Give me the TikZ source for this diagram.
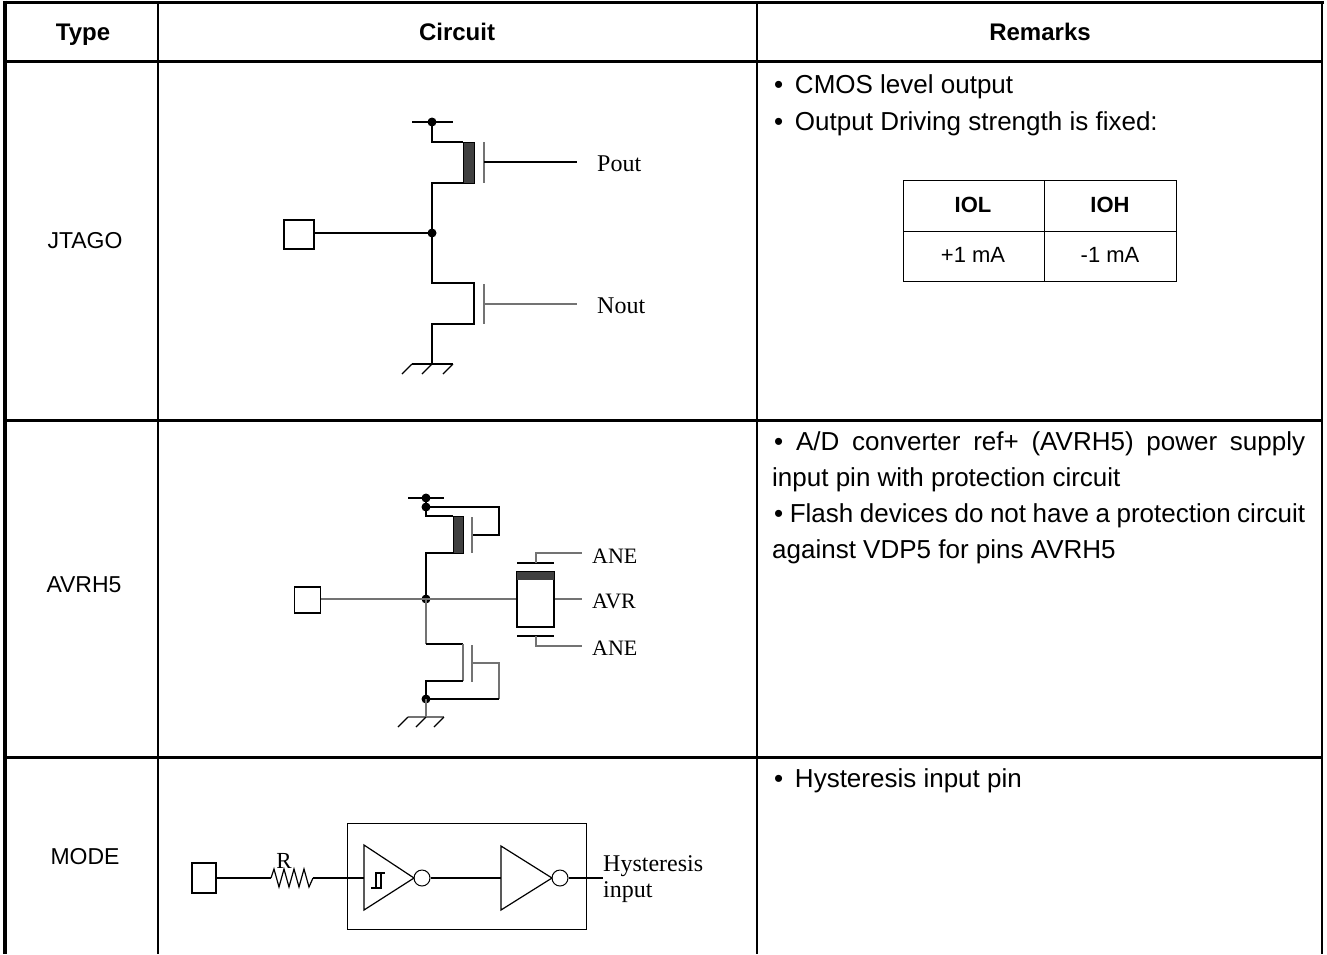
\documentclass[tikz,border=0pt]{standalone}
\usepackage{fontspec}
\setmainfont{Liberation Sans}
\newfontfamily\tms{Liberation Serif}
\newcommand{\jline}[2]{{\spaceskip=0.28em plus 3em minus 0.1em\makebox[#1][s]{#2}}}
\newcommand{\bul}{•\hspace{0.45em}}
\begin{document}
\begin{tikzpicture}[x=1pt,y=-1pt,
  hdr/.style={font=\bfseries\fontsize{24}{28}\selectfont, inner sep=0pt, anchor=base},
  lbl/.style={font=\fontsize{23}{27}\selectfont, inner sep=0pt},
  body/.style={font=\fontsize{26}{30}\selectfont, anchor=west, inner sep=0pt},
  wire/.style={line width=1.2pt},
  gwire/.style={line width=1.2pt, draw=black!55},
  jdot/.style={circle, fill=black, inner sep=0pt, minimum size=9pt},
  padbox/.style={draw, line width=1.1pt, fill=white},
  chan/.style={draw, fill=black!75, line width=1pt},
  clbl/.style={font=\tms\fontsize{24}{28}\selectfont, anchor=west, inner sep=0pt},
  slbl/.style={font=\tms\fontsize{22}{26}\selectfont, anchor=west, inner sep=0pt},
  ttxt/.style={font=\fontsize{22}{26}\selectfont, inner sep=0pt},
  ttxtb/.style={font=\bfseries\fontsize{22}{26}\selectfont, inner sep=0pt},
]
\useasboundingbox (0,0) rectangle (1327,954);
\fill[white] (0,0) rectangle (1327,954);

% ---------- table frame ----------
\draw[line width=3.5pt] (3,2.5)--(1323.5,2.5);
\draw[line width=4pt] (5,0.5)--(5,954);
\draw[line width=2.5pt] (1322,1)--(1322,954);
\draw[line width=3pt] (5,61)--(1322,61);
\draw[line width=3pt] (5,420)--(1322,420);
\draw[line width=3pt] (5,757)--(1322,757);
\draw[line width=2pt] (158,2)--(158,954);
\draw[line width=2pt] (757,2)--(757,954);

% ---------- header ----------
\node[hdr] (hType) at (83,40.5) {Type};
\node[hdr] (hCirc) at (457,40.5) {Circuit};
\node[hdr] (hRem) at (1040,40.5) {Remarks};

% ---------- row labels ----------
\node[lbl] (lJ) at (85,241) {JTAGO};
\node[lbl] (lA) at (84,585) {AVRH5};
\node[lbl] (lM) at (85,857) {MODE};

% ---------- JTAGO circuit ----------
\draw[wire] (412,122)--(453,122);
\node[jdot] (jvdd) at (432,122) {};
\draw[wire] (jvdd.center)--(432,142)--(463,142);
\draw[chan] (463,142) rectangle (474,183);
\draw[wire] (463,183)--(432,183)--(432,233);
\draw[gwire] (484,142)--(484,183);
\coordinate (jpg) at (484,162);
\node[clbl] (pout) at (597,164) {Pout};
\draw[wire] (jpg)--(577,162);
\node[padbox, minimum width=30pt, minimum height=29pt, inner sep=0pt] (jpad) at (299,234.5) {};
\node[jdot] (jout) at (432,233) {};
\draw[wire] (jpad.east |- jout)--(jout.center);
\draw[wire] (jout.center)--(432,283)--(474,283)--(474,324)--(432,324)--(432,364);
\draw[gwire] (484,284)--(484,324);
\coordinate (jng) at (484,304);
\draw[gwire] (jng)--(577,304);
\node[clbl] (nout) at (597,306) {Nout};
\draw[wire] (412,364)--(453,364);
\draw[wire] (412,364)--(402,374) (432,364)--(422,374) (453,364)--(443,374);

% ---------- AVRH5 circuit ----------
\draw[wire] (408,498)--(444,498);
\node[jdot] (avdd) at (426,498) {};
\node[jdot] (avdd2) at (426,507) {};
\draw[wire] (avdd.center)--(avdd2.center);
\draw[wire] (avdd2.center)--(499,507)--(499,535)--(472,535);
\draw[gwire] (472,517)--(472,553);
\draw[wire] (avdd2.center)--(426,516)--(453,516);
\draw[chan] (453,516) rectangle (463,553);
\draw[wire] (453,553)--(426,553)--(426,599);
\node[padbox, minimum width=26pt, minimum height=26pt, inner sep=0pt] (apad) at (307.5,600) {};
\node[jdot] (aout) at (426,599) {};
\node[draw, line width=1.2pt, minimum width=37pt, minimum height=55pt, inner sep=0pt] (abox) at (535.5,599.5) {};
\fill[black!75] (abox.north west) rectangle ([yshift=-9pt]abox.north east);
\draw[line width=1.2pt] (abox.north west) rectangle (abox.south east);
\draw[gwire] (apad.east |- aout)--(aout.center)--(abox.west |- aout);
\draw[gwire] (abox.east |- aout)--(582,599);
\node[slbl] (avr) at (592,601) {AVR};
\draw[wire] (517,563)--(554,563);
\draw[gwire] (536,563)--(536,553)--(582,553);
\node[slbl] (ane1) at (592,556) {ANE};
\draw[wire] (517,636)--(554,636);
\draw[gwire] (536,636)--(536,646)--(582,646);
\node[slbl] (ane2) at (592,648) {ANE};
\node[jdot] (agnd) at (426,699) {};
\draw[gwire] (aout.center)--(426,644);
\draw[wire] (426,644)--(463,644);
\draw[gwire] (463,644)--(463,681);
\draw[wire] (463,681)--(426,681)--(agnd.center);
\draw[gwire] (472,645)--(472,682);
\draw[gwire] (472,663)--(499,663)--(499,699);
\draw[wire] (499,699)--(agnd.center);
\draw[gwire] (agnd.center)--(426,717);
\draw[gwire] (408,717)--(444,717);
\draw[wire] (408,717)--(398,727) (426,717)--(416,727) (444,717)--(434,727);

% ---------- MODE circuit ----------
\node[padbox, minimum width=24pt, minimum height=30pt, inner sep=0pt] (mpad) at (204,878) {};
\coordinate (rin) at (271,878);
\coordinate (rout) at (313,878);
\draw[wire] (mpad.east)--(rin);
\draw[wire] (rin)--(274,869)--(279,887)--(284,869)--(289,887)--(294,869)--(299,887)--(304,869)--(309,887)--(rout);
\node[font=\tms\fontsize{23}{27}\selectfont, inner sep=0pt] (rlbl) at (284,861) {R};
\draw[line width=1pt] (347,823) rectangle (586,929);
\draw[wire] (rout)--(364,878);
\draw[wire] (364,845)--(414,878)--(364,910)--cycle;
\node[circle, draw, line width=1pt, minimum size=16pt, inner sep=0pt] (b1) at (422,878) {};
\draw[wire] (371,888)--(381,888)--(381,873);
\draw[wire] (376,888)--(376,873)--(385,873);
\draw[wire] (b1.east)--(501,878);
\draw[wire] (501,846)--(552,878)--(501,910)--cycle;
\node[circle, draw, line width=1pt, minimum size=16pt, inner sep=0pt] (b2) at (560,878) {};
\coordinate (mout) at (603,878);
\draw[wire] (b2.east)--(mout);
\node[clbl] (hys1) at (603,866) {Hysteresis};
\node[clbl] (hys2) at (603,892) {input};

% ---------- Remarks ----------
\node[body] (r1a) at (774,87) {\bul CMOS level output};
\node[body] (r1b) at (774,124) {\bul Output Driving strength is fixed:};
\draw[line width=1pt] (903,180) rectangle (1176,281);
\draw[line width=1pt] (1044,180)--(1044,281);
\draw[line width=1pt] (903,231)--(1176,231);
\node[ttxtb] (tiol) at (973,205) {IOL};
\node[ttxtb] (tioh) at (1110,205) {IOH};
\node[ttxt] (tp) at (973,255) {+1 mA};
\node[ttxt] (tm) at (1110,255) {-1 mA};

\node[body] (r2a) at (774,444) {\jline{531pt}{• A/D converter ref+ (AVRH5) power supply}};
\node[body] (r2b) at (772,480) {input pin with protection circuit};
\node[body] (r2c) at (774,516) {\jline{531pt}{• Flash devices do not have a protection circuit}};
\node[body] (r2d) at (772,552) {against VDP5 for pins AVRH5};

\node[body] (r3a) at (774,781) {\bul Hysteresis input pin};
\end{tikzpicture}
\end{document}
